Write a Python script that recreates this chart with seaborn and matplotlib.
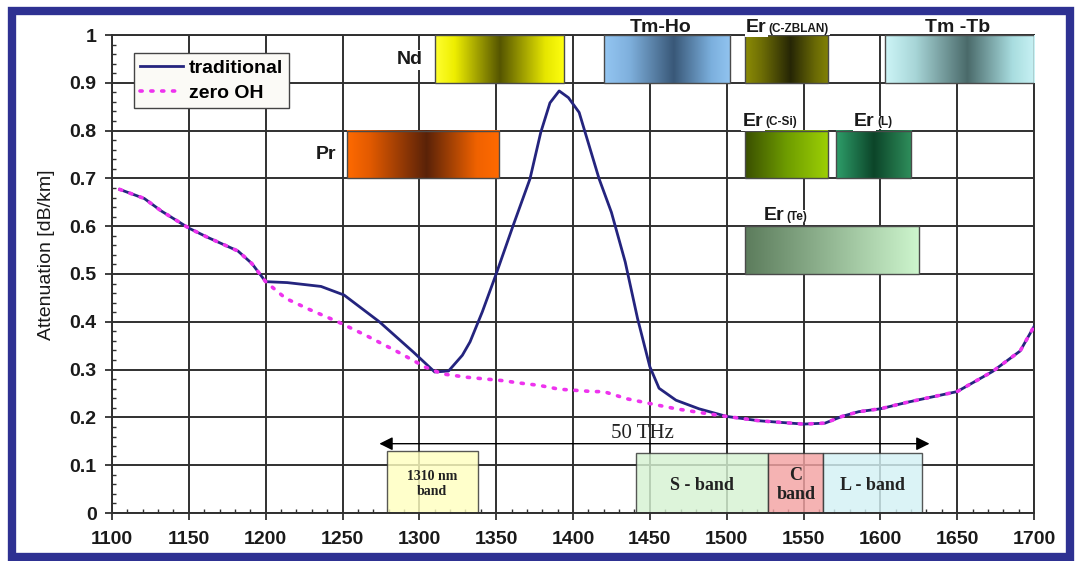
import numpy as np
import pandas as pd
import matplotlib
matplotlib.use("Agg")
import matplotlib.pyplot as plt
import seaborn as sns
from matplotlib.colors import LinearSegmentedColormap
from matplotlib.patches import Rectangle
from matplotlib.ticker import MultipleLocator, FixedLocator, FixedFormatter

# ---------------- data ----------------
wl_trad = [1105, 1121, 1132, 1150, 1162, 1182, 1191, 1200, 1214, 1236, 1251, 1274,
           1296, 1310, 1319, 1328, 1333, 1341, 1350, 1361, 1372, 1379, 1385, 1391,
           1397, 1404, 1417, 1425, 1434, 1442, 1450, 1456, 1467, 1482, 1500, 1521,
           1550, 1564, 1575, 1586, 1600, 1618, 1650, 1673, 1691, 1700]
att_trad = [0.677, 0.658, 0.632, 0.596, 0.577, 0.548, 0.522, 0.484, 0.482, 0.474, 0.456, 0.400,
            0.337, 0.295, 0.297, 0.330, 0.358, 0.421, 0.500, 0.601, 0.699, 0.796, 0.858, 0.883,
            0.869, 0.838, 0.699, 0.629, 0.525, 0.407, 0.306, 0.261, 0.236, 0.218, 0.202, 0.193,
            0.186, 0.188, 0.202, 0.212, 0.218, 0.232, 0.254, 0.296, 0.339, 0.390]

wl_zero = [1105, 1121, 1132, 1150, 1162, 1182, 1191, 1200, 1213, 1229, 1247, 1265,
           1286, 1304, 1315, 1331, 1354, 1365, 1378, 1391, 1400, 1413, 1420, 1435,
           1450, 1467, 1489, 1500, 1521, 1550, 1564, 1575, 1586, 1600, 1618, 1650,
           1673, 1691, 1700]
att_zero = [0.677, 0.658, 0.632, 0.596, 0.577, 0.548, 0.522, 0.484, 0.449, 0.425, 0.400, 0.372,
            0.337, 0.305, 0.291, 0.284, 0.277, 0.272, 0.267, 0.259, 0.257, 0.254, 0.254, 0.239,
            0.229, 0.218, 0.207, 0.202, 0.193, 0.186, 0.188, 0.202, 0.212, 0.218, 0.232, 0.254,
            0.296, 0.339, 0.390]

series_names = ["traditional", "zero OH"]

# amplifier windows (wavelength range nm, attenuation-axis rows)
amp_keys = ["Nd", "Pr", "Tm-Ho", "Er_CZBLAN", "Tm-Tb", "Er_CSi", "Er_L", "Er_Te"]
amp_start = [1310, 1253, 1420, 1512, 1603, 1512, 1571, 1512]
amp_end = [1394, 1352, 1502, 1566, 1700, 1566, 1620, 1625]
amp_low = [0.9, 0.7, 0.9, 0.9, 0.9, 0.7, 0.7, 0.5]
amp_high = [1.0, 0.8, 1.0, 1.0, 1.0, 0.8, 0.8, 0.6]

# transmission bands
band_labels = ["1310 nm\nband", "S - band", "C\nband", "L - band"]
band_start = [1279, 1441, 1527, 1563]
band_end = [1338, 1527, 1563, 1627]
band_top = [0.13, 0.125, 0.125, 0.125]

span_start, span_end, span_level = 1274, 1632, 0.145
span_label = "50 THz"

x_ticks = [1100, 1150, 1200, 1250, 1300, 1350, 1400, 1450, 1500, 1550, 1600, 1650, 1700]
y_ticks = [0, 0.1, 0.2, 0.3, 0.4, 0.5, 0.6, 0.7, 0.8, 0.9, 1.0]
y_tick_labels = ["0", "0.1", "0.2", "0.3", "0.4", "0.5", "0.6", "0.7", "0.8", "0.9", "1"]

# ---------------- style ----------------
plt.rcParams["font.family"] = ["Liberation Sans", "DejaVu Sans"]
SERIF = ["Liberation Serif", "DejaVu Serif"]
NAVY = "#24247e"
MAGENTA = "#ee33ee"
GRID = "#303030"

amp_grad = {
    "Nd": [(0, "#ffff30"), (0.15, "#eeee00"), (0.5, "#555500"), (0.85, "#e6e600"), (1, "#ffff10")],
    "Pr": [(0, "#ff6a00"), (0.15, "#e25a00"), (0.52, "#5a2208"), (0.85, "#f06200"), (1, "#ff6a00")],
    "Tm-Ho": [(0, "#94c6f2"), (0.2, "#7fb0dd"), (0.55, "#395878"), (0.85, "#7cb0de"), (1, "#92c4f0")],
    "Er_CZBLAN": [(0, "#8c8c05"), (0.2, "#6e6e05"), (0.55, "#262605"), (0.85, "#6a6a05"), (1, "#808005")],
    "Tm-Tb": [(0, "#cdf5f7"), (0.2, "#a8d6d8"), (0.55, "#4a6a6a"), (0.85, "#a8dcdf"), (1, "#c8f2f4")],
    "Er_CSi": [(0, "#3a4f00"), (0.5, "#6e9c00"), (1, "#9ccf05")],
    "Er_L": [(0, "#2e9e6a"), (0.5, "#0c4529"), (1, "#2f8f5c")],
    "Er_Te": [(0, "#5c7c5c"), (1, "#cdf5cd")],
}
band_colors = ["#ffffc0", "#d6f2d2", "#f3a3a3", "#d3f1f5"]

# ---------------- figure ----------------
W, H = 1078, 561
fig = plt.figure(figsize=(W / 100, H / 100), dpi=100)
ax = fig.add_axes([112 / W, 1 - 513 / H, 922 / W, 478 / H])

df = pd.concat([
    pd.DataFrame({"wavelength": wl_trad, "attenuation": att_trad, "fiber": series_names[0]}),
    pd.DataFrame({"wavelength": wl_zero, "attenuation": att_zero, "fiber": series_names[1]}),
])

sns.lineplot(data=df[df.fiber == series_names[0]], x="wavelength", y="attenuation",
             color=NAVY, linewidth=2.0, ax=ax, label=series_names[0], zorder=5,
             estimator=None, sort=True)
sns.lineplot(data=df[df.fiber == series_names[1]], x="wavelength", y="attenuation",
             color=MAGENTA, linewidth=2.6, ax=ax, label=series_names[1], zorder=6,
             estimator=None, sort=True, linestyle=(0, (0.6, 2.4)), dash_capstyle="round")

# gradient amplifier boxes
grad = np.linspace(0, 1, 256).reshape(1, -1)
for key, x0, x1, y0, y1 in zip(amp_keys, amp_start, amp_end, amp_low, amp_high):
    cmap = LinearSegmentedColormap.from_list(key, amp_grad[key])
    ax.imshow(grad, extent=[x0, x1, y0, y1], aspect="auto", cmap=cmap, zorder=3,
              interpolation="bilinear")
    ax.add_patch(Rectangle((x0, y0), x1 - x0, y1 - y0, fill=False, ec="#4a4a4a",
                           lw=1.0, zorder=3.1))

lab_kw = dict(fontsize=14, fontweight="bold", color="#1a1a1a", zorder=4)
wbox = dict(facecolor="white", edgecolor="none", pad=1.0)
ax.text(1302, 0.948, "Nd", ha="right", va="center", bbox=wbox, **lab_kw)
ax.text(1246, 0.749, "Pr", ha="right", va="center", bbox=wbox, **lab_kw)
ax.text(1457, 1.007, "Tm-Ho", ha="center", va="baseline", **lab_kw)
ax.text(1650, 1.007, "Tm -Tb", ha="center", va="baseline", **lab_kw)


def er_label(x, y, sub, va="center"):
    t = ax.text(x, y, "Er", ha="left", va=va, bbox=wbox, **lab_kw)
    ax.annotate(sub, xy=(1, 0.42), xycoords=t, xytext=(1.5, 0), textcoords="offset points",
                ha="left", va="center", fontsize=8.5, fontweight="bold", color="#1a1a1a",
                zorder=4, bbox=dict(facecolor="white", edgecolor="none", pad=0.5))


er_label(1512.5, 1.007, "(C-ZBLAN)", va="baseline")
er_label(1510.5, 0.82, "(C-Si)")
er_label(1583, 0.82, "(L)")
er_label(1524, 0.623, "(Te)")

# transmission bands
for lbl, x0, x1, top, col in zip(band_labels, band_start, band_end, band_top, band_colors):
    ax.add_patch(Rectangle((x0, 0), x1 - x0, top, facecolor=col, edgecolor="#333333",
                           lw=1.0, alpha=0.82, zorder=2))
    fs = 10 if "1310" in lbl else 13
    ax.text((x0 + x1) / 2, top / 2 - 0.004, lbl, ha="center", va="center", family=SERIF,
            fontweight="bold", fontsize=fs, color="#222222", zorder=4, linespacing=1.15)

ax.annotate("", xy=(span_start, span_level), xytext=(span_end, span_level),
            arrowprops=dict(arrowstyle="<|-|>", color="black", lw=1.0, mutation_scale=20,
                            shrinkA=0, shrinkB=0), zorder=4)
ax.text(1445, 0.166, span_label, ha="center", va="center", family=SERIF, fontsize=15,
        color="#222222", zorder=4)

# axes cosmetics
ax.set_xlim(1100, 1700)
ax.set_ylim(0, 1)
ax.xaxis.set_major_locator(FixedLocator(x_ticks))
ax.xaxis.set_minor_locator(MultipleLocator(10))
ax.yaxis.set_major_locator(FixedLocator(y_ticks))
ax.yaxis.set_major_formatter(FixedFormatter(y_tick_labels))
ax.yaxis.set_minor_locator(MultipleLocator(0.02))
ax.set_axisbelow(True)
ax.grid(True, which="major", color=GRID, lw=1.4)
ax.tick_params(which="major", direction="out", length=5, width=1.3, color=GRID,
               labelsize=14, labelcolor="#1a1a1a")
ax.tick_params(axis="x", which="major", pad=8)
ax.tick_params(axis="y", which="major", pad=6)
ax.tick_params(which="minor", direction="in", length=3, width=1.0, color=GRID)
for lbl in ax.get_xticklabels() + ax.get_yticklabels():
    lbl.set_fontweight("bold")
for sp in ax.spines.values():
    sp.set_color(GRID)
    sp.set_linewidth(1.4)

ax.set_xlabel("")
ax.set_ylabel("Attenuation [dB/km]", fontsize=14, color="#1a1a1a")
ax.yaxis.set_label_coords(-0.062, 0.54)

leg = ax.legend(loc="upper left", bbox_to_anchor=(0.024, 0.962), borderaxespad=0,
                frameon=True, fancybox=False, framealpha=1, edgecolor="#444444",
                facecolor="#fbfaf6", prop=dict(weight="bold", size=14),
                handlelength=2.2, handletextpad=0.3, labelspacing=0.4, borderpad=0.3)
leg.get_frame().set_linewidth(1.0)
leg.set_zorder(7)

# outer blue frame
fig.patches.append(Rectangle((12 / W, 1 - 557 / H), 1058 / W, 546 / H, transform=fig.transFigure,
                             fill=False, ec="#2e3192", lw=6, zorder=10))

fig.savefig("out.png", dpi=100, facecolor="white")
